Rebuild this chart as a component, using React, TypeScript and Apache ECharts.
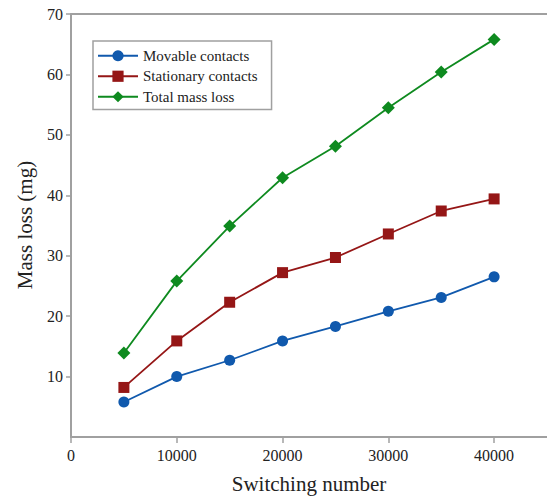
import React, { useEffect, useRef } from "react";
import * as echarts from "echarts";

const switchingNumbers = [5000, 10000, 15000, 20000, 25000, 30000, 35000, 40000];
const movable = [5.8, 10.0, 12.7, 15.9, 18.3, 20.8, 23.1, 26.5];
const stationary = [8.2, 15.9, 22.3, 27.2, 29.7, 33.6, 37.4, 39.4];
const total = [13.9, 25.8, 34.9, 42.9, 48.1, 54.5, 60.4, 65.8];
const seriesNames = ["Movable contacts", "Stationary contacts", "Total mass loss"];
const seriesColors = ["#1059ad", "#951616", "#0e8a1f"];
const seriesSymbols = ["circle", "rect", "diamond"];
const seriesSizes = [11, 11, 13];

const FONT = "Liberation Serif";

export default function App() {
  const ref = useRef<HTMLDivElement>(null);
  useEffect(() => {
    if (!ref.current) return;
    const chart = echarts.init(ref.current, undefined, { renderer: "svg" });
    const datasets = [movable, stationary, total];
    chart.setOption({
      animation: false,
      backgroundColor: "#fff",
      textStyle: { fontFamily: FONT },
      grid: { left: 71, top: 14, right: 0, bottom: 59, containLabel: false },
      legend: {
        left: 93,
        top: 41,
        orient: "vertical",
        itemWidth: 40,
        itemHeight: 14,
        itemGap: 5,
        padding: [7, 14, 5, 4],
        borderColor: "#a0a0a0",
        borderWidth: 1.5,
        textStyle: { fontFamily: FONT, fontSize: 15, color: "#222", lineHeight: 15.5 },
        data: seriesNames,
      },
      xAxis: [
        {
          type: "value",
          min: 0,
          max: 45000,
          interval: 10000,
          splitLine: { show: false },
          axisLine: { lineStyle: { color: "#a0a0a0", width: 2 } },
          axisTick: { length: 6, lineStyle: { color: "#a0a0a0", width: 1.5 } },
          axisLabel: {
            margin: 10,
            fontFamily: FONT,
            fontSize: 16,
            color: "#222",
            showMaxLabel: false,
            formatter: (v: number) => String(v),
          },
        },
        {
          type: "value",
          position: "top",
          min: 0,
          max: 45000,
          splitLine: { show: false },
          axisLine: { show: true, lineStyle: { color: "#a0a0a0", width: 2 } },
          axisTick: { show: false },
          axisLabel: { show: false },
        },
      ],
      yAxis: {
        type: "value",
        min: 0,
        max: 70,
        interval: 10,
        splitLine: { show: false },
        axisLine: { show: true, lineStyle: { color: "#a0a0a0", width: 2 } },
        axisTick: { length: 5, lineStyle: { color: "#a0a0a0", width: 1.5 } },
        axisLabel: {
          margin: 8,
          fontFamily: FONT,
          fontSize: 16,
          color: "#222",
          showMinLabel: false,
        },
      },
      graphic: [
        {
          type: "text",
          x: 309,
          y: 484,
          style: {
            text: "Switching number",
            font: `21px ${FONT}`,
            fill: "#222",
            align: "center",
            verticalAlign: "middle",
          },
        },
        {
          type: "text",
          x: 25,
          y: 225,
          rotation: Math.PI / 2,
          style: {
            text: "Mass loss (mg)",
            font: `21px ${FONT}`,
            fill: "#222",
            align: "center",
            verticalAlign: "middle",
          },
        },
      ],
      series: datasets.map((d, i) => ({
        name: seriesNames[i],
        type: "line",
        xAxisIndex: 0,
        data: d.map((v, j) => [switchingNumbers[j], v]),
        symbol: seriesSymbols[i],
        symbolSize: seriesSizes[i],
        itemStyle: { color: seriesColors[i] },
        lineStyle: { color: seriesColors[i], width: 1.8 },
      })),
    });
    return () => chart.dispose();
  }, []);
  return (
    <div
      ref={ref}
      style={{ position: "fixed", left: 0, top: 0, width: 547, height: 496, background: "#fff" }}
    />
  );
}
